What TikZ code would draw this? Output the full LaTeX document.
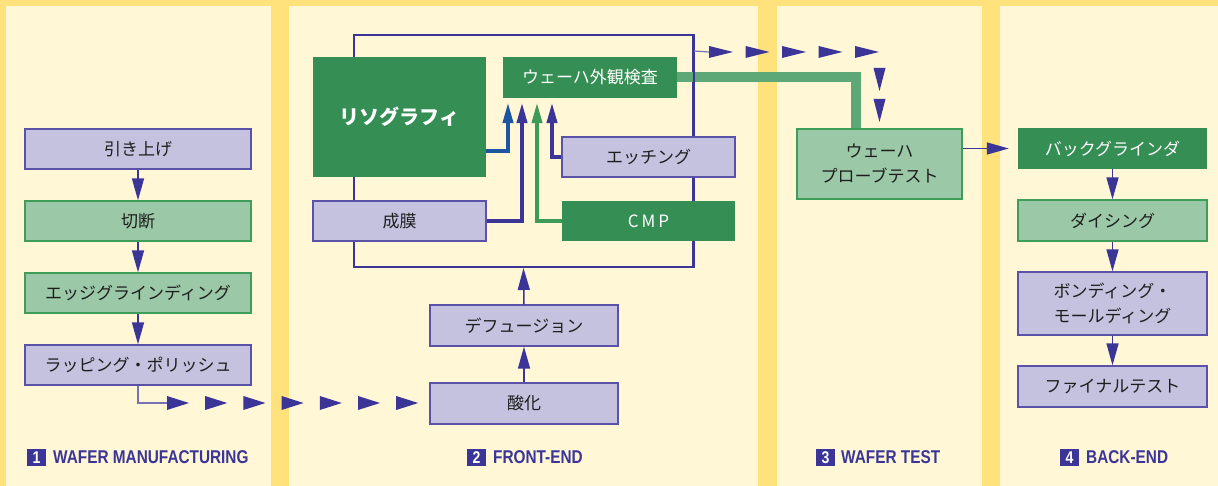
\documentclass[tikz,border=0pt]{standalone}
\usepackage{fontspec}
\newfontfamily\jp{Noto Sans CJK JP}
\newfontfamily\cond[FakeStretch=0.83]{Liberation Sans}
\usetikzlibrary{arrows.meta,calc}
\definecolor{stripe}{HTML}{FFE27C}
\definecolor{panel}{HTML}{FFF7D6}
\definecolor{lav}{HTML}{C5C2E0}
\definecolor{lavb}{HTML}{5A52A8}
\definecolor{lgreen}{HTML}{9BC8A6}
\definecolor{lgreenb}{HTML}{3F9D5A}
\definecolor{dgreen}{HTML}{358E54}
\definecolor{navy}{HTML}{3B3597}
\definecolor{bluea}{HTML}{1D55A0}
\definecolor{greena}{HTML}{3E9A58}
\definecolor{gbar}{HTML}{5EA878}
\definecolor{txt}{HTML}{1E1E1E}
\tikzset{
  boxbase/.style={inner sep=0pt, minimum height=40pt, align=center,
    font=\jp\fontsize{17}{24}\selectfont, text=txt},
  lavbox/.style={boxbase, fill=lav, draw=lavb, line width=1.3pt},
  lgbox/.style={boxbase, fill=lgreen, draw=lgreenb, line width=1.3pt},
  dgbox/.style={boxbase, fill=dgreen, text=white},
  flow/.style={draw=navy, line width=1.5pt, -{Triangle[length=22pt,width=12pt]}},
  feed/.style={line width=4pt, -{Triangle[length=21pt,width=10pt]}, shorten >=4pt},
  thinl/.style={draw=navy!70, line width=1.2pt},
  tri/.style={fill=navy},
  numbox/.style={fill=navy, text=white, inner sep=0pt, minimum width=19pt, minimum height=17pt,
    font=\cond\bfseries\fontsize{17}{17}\selectfont},
  lbl/.style={anchor=west, inner sep=0pt, text=navy, font=\cond\bfseries\fontsize{18.5}{18.5}\selectfont}
}
\begin{document}
\begin{tikzpicture}[x=1pt,y=-1pt]
% background
\fill[stripe] (0,0) rectangle (1218,486);
\useasboundingbox (0,0) rectangle (1218,486);
\fill[panel] (6,6) rectangle (271,486);
\fill[panel] (289,6) rectangle (758,486);
\fill[panel] (777,6) rectangle (982,486);
\fill[panel] (1000,6) rectangle (1218,486);

% panel 1
\node[lavbox, minimum width=226pt] (hik) at (138,149) {引き上げ};
\node[lgbox, minimum width=226pt] (cut) at (138,221) {切断};
\node[lgbox, minimum width=226pt] (edge) at (138,293) {エッジグラインディング};
\node[lavbox, minimum width=226pt] (lap) at (138,365) {ラッピング・ポリッシュ};
\draw[flow] (hik.south) -- (cut.north);
\draw[flow] (cut.south) -- (edge.north);
\draw[flow] (edge.south) -- (lap.north);

% panel 3 (probe first, used by connectors)
\node[lgbox, minimum width=165pt, minimum height=70pt, font=\jp\fontsize{17}{25}\selectfont] (probe) at (879.5,164) {ウェーハ\\プローブテスト};

% panel 2
\node[draw=navy, line width=2pt, minimum width=339pt, minimum height=232pt, inner sep=0pt] (loop) at (523.5,151) {};
\node[dgbox, minimum width=174pt, minimum height=41pt] (insp) at (590,77.5) {ウェーハ外観検査};
\draw[gbar, line width=10pt] (insp.east) -| ([xshift=-23.5pt]probe.north);
\draw[navy, line width=2pt] (loop.north east) -- (loop.south east);
\node[dgbox, minimum width=173pt, minimum height=120pt, font=\jp\bfseries\fontsize{20}{24}\selectfont] (litho) at (399.5,117) {リソグラフィ};
\node[lavbox, minimum width=173pt] (etch) at (648.5,157) {エッチング};
\node[lavbox, minimum width=173pt] (film) at (399.5,221) {成膜};
\node[dgbox, minimum width=173pt] (cmp) at (648.5,221) {C\hspace{3pt}M\hspace{3pt}P};
\node[lavbox, minimum width=188pt, minimum height=41pt] (diff) at (524,325.5) {デフュージョン};
\node[lavbox, minimum width=188pt, minimum height=41pt] (ox) at (524,403.5) {酸化};
\draw[feed, bluea] ([yshift=-34pt]litho.east) -| ([xshift=-82pt]insp.south);
\draw[feed, navy] (film.east) -| ([xshift=-68pt]insp.south);
\draw[feed, greena] (cmp.west) -| ([xshift=-53pt]insp.south);
\draw[feed, navy] (etch.west) -| ([xshift=-38pt]insp.south);
\draw[flow] (ox.north) -- (diff.south);
\draw[flow] (diff.north) -- (loop.south);

% panel 4
\node[dgbox, minimum width=189pt, minimum height=41pt] (bg) at (1112.5,148.5) {バックグラインダ};
\node[lgbox, minimum width=189pt, minimum height=41pt] (dice) at (1112.5,220.5) {ダイシング};
\node[lavbox, minimum width=189pt, minimum height=63pt, font=\jp\fontsize{17}{25}\selectfont] (bond) at (1112.5,303.5) {ボンディング・\\モールディング};
\node[lavbox, minimum width=189pt, minimum height=41pt] (fin) at (1112.5,386.5) {ファイナルテスト};
\draw[flow] (dice.north |- bg.south) -- (dice.north);
\draw[flow] (dice.south) -- (bond.north);
\draw[flow] (bond.south) -- (fin.north);
\draw[flow, shorten >=9pt] (probe.east |- bg.west) -- (bg.west);

% dashed triangle connector: lapping -> oxidation
\coordinate (d1) at (167,403);
\draw[thinl] (lap.south) |- (d1);
\foreach \i in {0,...,6} {
  \fill[tri] ($(d1)+(\i*38.2,-7)$) -- ++(22,7) -- ++(-22,7) -- cycle;
}
% dashed triangle connector: loop -> probe test
\coordinate (d2) at (709,52);
\draw[thinl] ([yshift=-17pt]loop.north east) -- (d2);
\foreach \i in {0,...,4} {
  \fill[tri] ($(d2)+(\i*36.5,-6)$) -- ++(24,6) -- ++(-24,6) -- cycle;
}
\foreach \yy in {68,99} {
  \fill[tri] ($(probe.north |- 0,\yy)+(-6,0)$) -- ++(12,0) -- ++(-6,23) -- cycle;
}

% labels
\node[numbox] (n1) at (36.5,457.5) {1};
\node[lbl] (l1) at (53,457.5) {WAFER MANUFACTURING};
\node[numbox] (n2) at (476.5,457.5) {2};
\node[lbl] (l2) at (493,457.5) {FRONT-END};
\node[numbox] (n3) at (825.5,457.5) {3};
\node[lbl] (l3) at (841,457.5) {WAFER TEST};
\node[numbox] (n4) at (1069.5,457.5) {4};
\node[lbl] (l4) at (1086,457.5) {BACK-END};
\end{tikzpicture}
\end{document}
